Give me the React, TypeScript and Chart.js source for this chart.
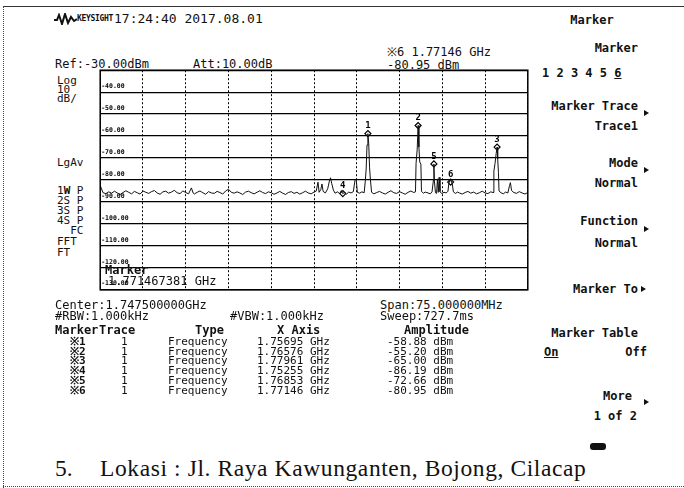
import React, { useEffect, useRef } from "react";
import { Chart, registerables } from "chart.js";

Chart.register(...registerables);

// ---- data ----
const X_MIN_MHZ = 1710;
const X_MAX_MHZ = 1785;
const X_STEP_MHZ = 7.5;
const Y_MIN_DBM = -130;
const Y_MAX_DBM = -30;
const Y_STEP_DB = 10;

// trace 1 [frequency MHz, amplitude dBm]
const TRACE: [number, number][] = [
  [1710.0, -82.5], [1710.5, -85.8], [1711.0, -86.2], [1711.5, -85.4], [1712.0, -86.0],
  [1712.5, -85.1], [1713.0, -85.9], [1713.5, -86.6], [1714.0, -85.7], [1714.5, -84.9],
  [1715.0, -85.6], [1715.5, -86.3], [1716.0, -85.2], [1716.5, -85.8], [1717.0, -86.4],
  [1717.5, -85.0], [1718.0, -85.6], [1718.5, -86.1], [1719.0, -85.3], [1719.5, -84.8],
  [1720.0, -85.9], [1720.5, -86.5], [1721.0, -85.4], [1721.5, -85.1], [1722.0, -86.0],
  [1722.5, -85.5], [1723.0, -84.7], [1723.5, -85.8], [1724.0, -86.2], [1724.5, -85.0],
  [1725.0, -85.7], [1725.5, -86.3], [1726.0, -83.6], [1726.3, -85.9], [1726.5, -86.4],
  [1727.0, -85.6], [1727.5, -85.0], [1728.0, -85.8], [1728.5, -86.5], [1729.0, -85.3],
  [1729.5, -85.9], [1730.0, -86.1], [1730.5, -85.2], [1731.0, -85.7], [1731.5, -86.4],
  [1732.0, -85.0], [1732.5, -84.2], [1733.0, -85.6], [1733.5, -86.0], [1734.0, -85.4],
  [1734.5, -85.9], [1735.0, -86.6], [1735.5, -85.5], [1736.0, -85.1], [1736.5, -85.8],
  [1737.0, -86.3], [1737.5, -85.6], [1738.0, -84.9], [1738.5, -85.7], [1739.0, -86.2],
  [1739.5, -85.4], [1740.0, -85.8], [1740.5, -86.5], [1741.0, -85.9], [1741.5, -85.2],
  [1742.0, -86.0], [1742.5, -86.6], [1743.0, -85.7], [1743.5, -85.3], [1744.0, -86.1],
  [1744.5, -85.6], [1745.0, -86.4], [1745.5, -85.8], [1746.0, -85.1], [1746.5, -85.9],
  [1747.0, -86.3], [1747.5, -85.5], [1747.9, -85.0], [1748.2, -81.0], [1748.4, -85.6],
  [1748.7, -84.3], [1748.9, -81.8], [1749.1, -85.2], [1749.5, -85.9], [1749.9, -84.0],
  [1750.2, -80.5], [1750.4, -79.0], [1750.6, -81.5], [1750.9, -84.6], [1751.2, -86.0],
  [1751.6, -85.4], [1752.0, -86.2], [1752.3, -84.8], [1752.55, -86.2], [1752.8, -85.7],
  [1753.2, -86.4], [1753.6, -85.5], [1754.0, -85.9], [1754.4, -85.3], [1754.7, -80.0],
  [1754.9, -79.5], [1755.1, -85.6], [1755.5, -86.0], [1755.9, -85.4], [1756.3, -85.8],
  [1756.5, -80.5], [1756.65, -75.0], [1756.8, -64.0], [1756.95, -58.9], [1757.1, -63.5],
  [1757.25, -74.5], [1757.4, -80.0], [1757.6, -85.6], [1758.0, -86.3], [1758.5, -85.7],
  [1759.0, -85.2], [1759.5, -85.9], [1760.0, -86.4], [1760.5, -85.6], [1761.0, -84.9],
  [1761.5, -85.8], [1762.0, -86.1], [1762.5, -85.3], [1763.0, -85.9], [1763.5, -86.5],
  [1764.0, -85.6], [1764.5, -85.0], [1765.0, -85.7], [1765.3, -85.4], [1765.4, -72.5],
  [1765.6, -66.0], [1765.76, -55.2], [1765.9, -65.0], [1766.05, -71.8], [1766.25, -72.8],
  [1766.35, -85.2], [1766.7, -86.0], [1767.0, -85.5], [1767.5, -85.9], [1767.9, -86.3],
  [1768.2, -85.4], [1768.45, -80.0], [1768.53, -72.7], [1768.62, -80.5], [1768.8, -85.8],
  [1769.0, -86.1], [1769.15, -79.5], [1769.3, -85.6], [1769.45, -78.8], [1769.6, -85.3],
  [1769.9, -86.2], [1770.3, -85.6], [1770.7, -85.9], [1771.0, -85.1], [1771.15, -81.5],
  [1771.35, -80.2], [1771.55, -80.4], [1771.75, -81.8], [1771.95, -85.4], [1772.3, -86.1],
  [1772.7, -85.5], [1773.0, -85.9], [1773.5, -86.4], [1774.0, -85.7], [1774.5, -85.2],
  [1775.0, -86.0], [1775.5, -85.5], [1776.0, -86.3], [1776.5, -85.8], [1777.0, -85.1],
  [1777.5, -85.9], [1778.0, -86.2], [1778.5, -85.4], [1778.9, -85.7], [1779.05, -76.0],
  [1779.25, -72.5], [1779.45, -68.0], [1779.61, -65.0], [1779.72, -70.5], [1779.85, -76.5],
  [1779.95, -85.0], [1780.3, -85.8], [1780.7, -86.3], [1781.1, -85.5], [1781.5, -85.9],
  [1781.8, -82.5], [1781.95, -81.2], [1782.15, -84.8], [1782.5, -85.6], [1783.0, -86.1],
  [1783.5, -85.3], [1784.0, -85.9], [1784.5, -86.4], [1785.0, -85.7],
];

const MARKER_IDS = ["1", "2", "3", "4", "5", "6"];
const MARKER_MHZ = [1756.95, 1765.76, 1779.61, 1752.55, 1768.53, 1771.46];
const MARKER_DBM = [-58.88, -55.2, -65.0, -86.19, -72.66, -80.95];
const MARKER_TRACE = ["1", "1", "1", "1", "1", "1"];

const ACTIVE_MARKER = 5; // index of marker 6

const MONO = "'DejaVu Sans Mono', 'Liberation Mono', monospace";
const SERIF = "'Liberation Serif', 'Times New Roman', serif";
const INK = "#111";

function Txt(props: {
  x: number;
  y: number;
  s?: number;
  bold?: boolean;
  align?: "left" | "right" | "center";
  font?: string;
  style?: React.CSSProperties;
  children: React.ReactNode;
}) {
  const { x, y, s = 12, bold, align = "left", font = MONO, style, children } = props;
  const tx =
    align === "right" ? "translate(-100%, -50%)" : align === "center" ? "translate(-50%, -50%)" : "translateY(-50%)";
  return (
    <div
      style={{
        position: "absolute",
        left: x,
        top: y,
        transform: tx,
        fontFamily: font,
        fontSize: s,
        fontWeight: bold ? 700 : 400,
        lineHeight: 1,
        whiteSpace: "pre",
        color: INK,
        ...style,
      }}
    >
      {children}
    </div>
  );
}

function Arrow({ x, y }: { x: number; y: number }) {
  return (
    <div
      style={{
        position: "absolute",
        left: x,
        top: y - 3,
        width: 0,
        height: 0,
        borderTop: "3px solid transparent",
        borderBottom: "3px solid transparent",
        borderLeft: "5px solid #111",
      }}
    />
  );
}

const markerLabelPlugin = {
  id: "markerLabels",
  afterDatasetsDraw(chart: any) {
    const ctx = chart.ctx;
    const meta = chart.getDatasetMeta(1);
    ctx.save();
    ctx.fillStyle = "#000";
    ctx.font = "bold 9px " + MONO;
    ctx.textAlign = "center";
    ctx.textBaseline = "bottom";
    meta.data.forEach((el: any, i: number) => {
      ctx.fillText(MARKER_IDS[i], el.x, el.y - 3);
    });
    const { left, top, right, bottom } = chart.chartArea;
    ctx.strokeStyle = "#000";
    ctx.lineWidth = 1.5;
    ctx.strokeRect(left, top, right - left, bottom - top);
    ctx.restore();
  },
};

function SpectrumChart() {
  const ref = useRef<HTMLCanvasElement | null>(null);
  useEffect(() => {
    if (!ref.current) return;
    const chart = new Chart(ref.current, {
      type: "line",
      data: {
        datasets: [
          {
            data: TRACE.map(([x, y]) => ({ x, y })),
            borderColor: "#111",
            borderWidth: 1,
            pointRadius: 0,
            tension: 0,
            fill: false,
          },
          {
            data: MARKER_MHZ.map((x, i) => ({ x, y: MARKER_DBM[i] })),
            showLine: false,
            pointStyle: "rectRot",
            pointRadius: 3,
            pointBackgroundColor: "#fff",
            pointBorderColor: "#000",
            pointBorderWidth: 1.2,
          },
        ],
      },
      options: {
        animation: false,
        responsive: false,
        maintainAspectRatio: false,
        layout: { padding: 2 },
        plugins: { legend: { display: false }, tooltip: { enabled: false } },
        scales: {
          x: {
            type: "linear",
            min: X_MIN_MHZ,
            max: X_MAX_MHZ,
            ticks: { display: false, stepSize: X_STEP_MHZ },
            grid: { color: "#000", lineWidth: 1, drawTicks: false },
            border: { display: false, dash: [2, 2] },
          },
          y: {
            type: "linear",
            min: Y_MIN_DBM,
            max: Y_MAX_DBM,
            ticks: {
              stepSize: Y_STEP_DB,
              mirror: true,
              labelOffset: -6,
              padding: 1,
              color: "#000",
              font: { size: 6.5, family: MONO, weight: "bold" },
              callback: (v: any) => (Number(v) === Y_MAX_DBM ? "" : Number(v).toFixed(2)),
            },
            grid: { color: "#000", lineWidth: 1.3, drawTicks: false },
            border: { display: false },
          },
        },
      },
      plugins: [markerLabelPlugin],
    } as any);
    return () => chart.destroy();
  }, []);
  return (
    <canvas
      ref={ref}
      width={438}
      height={230}
      style={{ position: "absolute", left: 95, top: 65, width: 438, height: 230 }}
    />
  );
}

export default function App() {
  useEffect(() => {
    document.body.style.margin = "0";
  }, []);
  const fmtFreq = (mhz: number) => (mhz / 1000).toFixed(5) + " GHz";
  const fmtAmp = (dbm: number) => dbm.toFixed(2) + " dBm";
  const menuR = 638;
  return (
    <div
      style={{
        position: "fixed",
        left: 0,
        top: 0,
        width: 684,
        height: 488,
        background: "#fff",
        overflow: "hidden",
      }}
    >
      {/* page frame */}
      <div style={{ position: "absolute", left: 3, top: 6, width: 681, height: 0, borderTop: "1px solid #333" }} />
      <div style={{ position: "absolute", left: 3, top: 6, width: 0, height: 482, borderLeft: "1px dotted #444" }} />
      <div style={{ position: "absolute", left: 3, top: 486, width: 681, height: 0, borderTop: "1px dotted #444" }} />

      {/* header */}
      <svg style={{ position: "absolute", left: 54, top: 13 }} width={23} height={12} viewBox="0 0 23 12">
        <polyline
          points="0,7 3,7 5,2 8,11 11,1 14,10 17,4 20,8 23,6"
          fill="none"
          stroke="#111"
          strokeWidth={2}
        />
      </svg>
      <Txt x={77} y={19} s={8} bold style={{ letterSpacing: -0.3 }}>KEYSIGHT</Txt>
      <Txt x={114} y={18} s={13}>17:24:40 2017.08.01</Txt>
      <Txt x={387} y={52}>{"※" + MARKER_IDS[ACTIVE_MARKER] + " " + fmtFreq(MARKER_MHZ[ACTIVE_MARKER])}</Txt>
      <Txt x={387} y={65}>{fmtAmp(MARKER_DBM[ACTIVE_MARKER])}</Txt>
      <Txt x={55} y={64}>Ref:-30.00dBm</Txt>
      <Txt x={193} y={64}>Att:10.00dB</Txt>

      {/* left side labels */}
      <Txt x={57} y={80} s={11}>Log</Txt>
      <Txt x={57} y={89} s={11}>10</Txt>
      <Txt x={57} y={98} s={11}>dB/</Txt>
      <Txt x={57} y={162} s={11}>LgAv</Txt>
      <Txt x={57} y={190} s={11}>{"1"}<b>W</b>{" P"}</Txt>
      <Txt x={57} y={200} s={11}>2S P</Txt>
      <Txt x={57} y={210} s={11}>3S P</Txt>
      <Txt x={57} y={220} s={11}>4S P</Txt>
      <Txt x={57} y={230} s={11}>{"  FC"}</Txt>
      <Txt x={57} y={241} s={11}>FFT</Txt>
      <Txt x={57} y={252} s={11}>FT</Txt>

      {/* plot */}
      <SpectrumChart />
      <Txt x={105} y={270} bold>Marker</Txt>
      <Txt x={108} y={281}>1.771467381 GHz</Txt>

      {/* right menu */}
      <Txt x={592} y={20} bold align="center">Marker</Txt>
      <Txt x={menuR} y={48} bold align="right">Marker</Txt>
      <Txt x={542} y={73} bold>
        {MARKER_IDS.map((m, i) => (
          <span key={m} style={{ textDecoration: i === ACTIVE_MARKER ? "underline" : "none" }}>
            {m + (i < MARKER_IDS.length - 1 ? " " : "")}
          </span>
        ))}
      </Txt>
      <Txt x={menuR} y={106} bold align="right">Marker Trace</Txt>
      <Arrow x={644} y={113} />
      <Txt x={menuR} y={126} bold align="right">Trace1</Txt>
      <Txt x={menuR} y={163} bold align="right">Mode</Txt>
      <Arrow x={644} y={170} />
      <Txt x={menuR} y={183} bold align="right">Normal</Txt>
      <Txt x={menuR} y={221} bold align="right">Function</Txt>
      <Txt x={menuR} y={243} bold align="right">Normal</Txt>
      <Arrow x={644} y={229} />
      <Txt x={573} y={289} bold>Marker To</Txt>
      <Arrow x={641} y={289} />
      <Txt x={menuR} y={333} bold align="right">Marker Table</Txt>
      <Txt x={544} y={352} bold style={{ textDecoration: "underline" }}>On</Txt>
      <Txt x={647} y={352} bold align="right">Off</Txt>
      <Txt x={632} y={396} bold align="right">More</Txt>
      <Arrow x={644} y={402} />
      <Txt x={637} y={416} bold align="right">1 of 2</Txt>
      <div
        style={{
          position: "absolute",
          left: 590,
          top: 443,
          width: 16,
          height: 7,
          borderRadius: 3,
          background: "#111",
        }}
      />

      {/* settings below plot */}
      <Txt x={55} y={305}>Center:1.747500000GHz</Txt>
      <Txt x={380} y={305}>Span:75.000000MHz</Txt>
      <Txt x={55} y={316}>#RBW:1.000kHz</Txt>
      <Txt x={230} y={316}>#VBW:1.000kHz</Txt>
      <Txt x={380} y={316}>Sweep:727.7ms</Txt>

      {/* marker table */}
      <Txt x={55} y={330} bold>Marker</Txt>
      <Txt x={99} y={330} bold>Trace</Txt>
      <Txt x={195} y={330} bold>Type</Txt>
      <Txt x={277} y={330} bold>X Axis</Txt>
      <Txt x={404} y={330} bold>Amplitude</Txt>
      {MARKER_IDS.map((m, i) => {
        const y = 341 + i * 9.7;
        return (
          <React.Fragment key={m}>
            <Txt x={70} y={y} s={11} bold>{"※" + m}</Txt>
            <Txt x={121} y={y} s={11}>{MARKER_TRACE[i]}</Txt>
            <Txt x={168} y={y} s={11}>Frequency</Txt>
            <Txt x={257} y={y} s={11}>{fmtFreq(MARKER_MHZ[i])}</Txt>
            <Txt x={387} y={y} s={11}>{fmtAmp(MARKER_DBM[i])}</Txt>
          </React.Fragment>
        );
      })}

      {/* document caption */}
      <Txt x={55} y={469} s={23.5} font={SERIF}>5.</Txt>
      <Txt x={100} y={469} s={23.5} font={SERIF} style={{ letterSpacing: 0.6 }}>
        Lokasi : Jl. Raya Kawunganten, Bojong, Cilacap
      </Txt>
    </div>
  );
}
